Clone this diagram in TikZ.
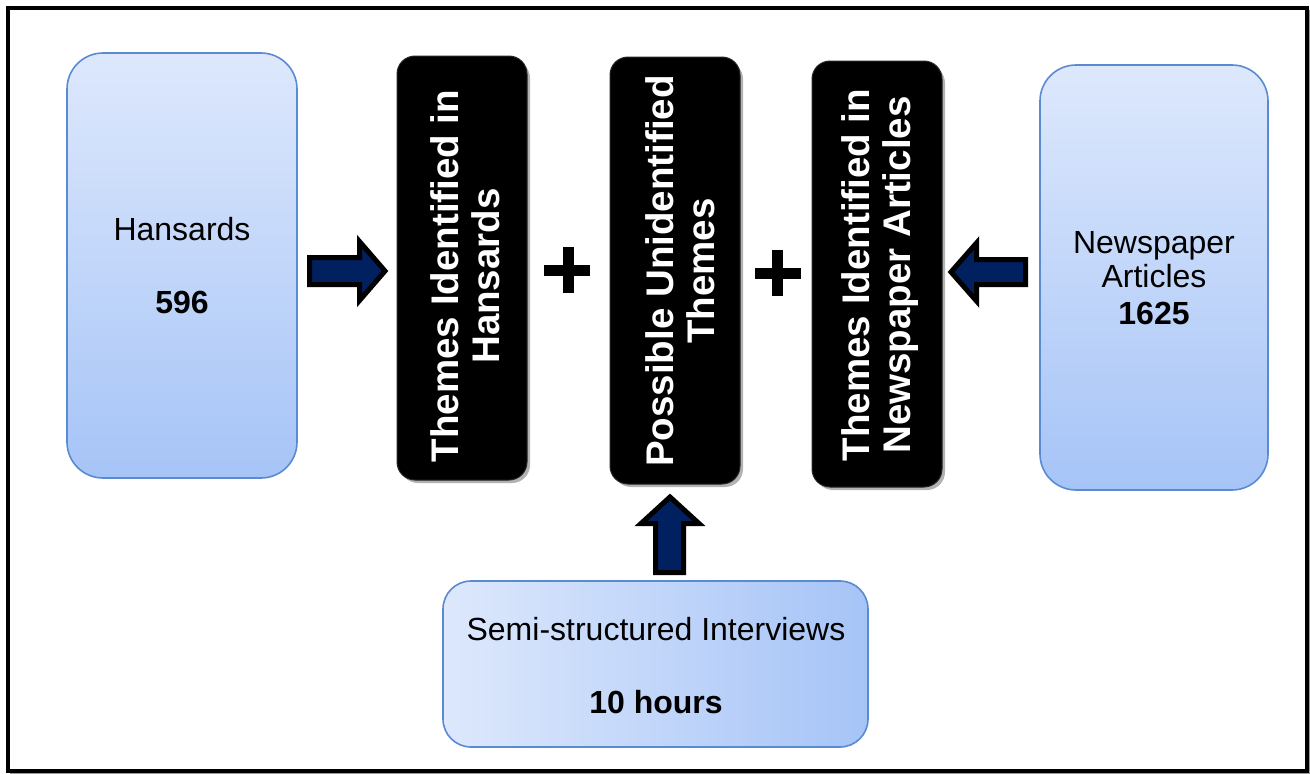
\documentclass[tikz,border=0pt]{standalone}
\usepackage{fontspec}
\setmainfont{Liberation Sans}
\definecolor{boxtop}{HTML}{DDE8FC}
\definecolor{boxbot}{HTML}{A6C4F7}
\definecolor{boxedge}{HTML}{5A8AD0}
\definecolor{navy}{HTML}{002060}
\definecolor{shadowgray}{HTML}{9A9A9A}
\begin{document}
\begin{tikzpicture}[x=1pt,y=-1pt,
  bluebox/.style={draw=boxedge, line width=1.6pt, rounded corners=36pt},
  blackbox/.style={draw=black!85, line width=1pt, fill=black, rounded corners=18pt,
                   minimum width=130pt, inner sep=0pt},
  txt/.style={font=\fontsize{32}{36}\selectfont, anchor=base, inner sep=0pt},
  btxt/.style={txt, font=\fontsize{32}{36}\selectfont\bfseries},
  vtxt/.style={text=white, rotate=90, align=center, inner sep=0pt,
               font=\fontsize{38.5}{40.5}\selectfont\bfseries},
  blockarrow/.style={draw=black, fill=navy, line width=5pt, line join=miter},
  plussign/.style={fill=black},
  frameline/.style={draw=black, line width=4pt}]
\useasboundingbox (0,0) rectangle (1310,774);
% frame
\draw[draw=shadowgray, line width=3pt] (10,773) -- (1309.5,773) -- (1309.5,10);
\draw[frameline] (7.5,7.5) rectangle (1307,771);
% blue boxes
\node[bluebox, top color=boxtop, bottom color=boxbot, minimum width=230pt, minimum height=425pt] (hans) at (182,265.5) {};
\node[bluebox, top color=boxtop, bottom color=boxbot, minimum width=228pt, minimum height=425pt] (news) at (1154,277.5) {};
\node[bluebox, rounded corners=28pt, left color=boxtop, right color=boxbot, minimum width=425pt, minimum height=166pt] (semi) at (655.5,664) {};
% black boxes (with soft shadow)
\fill[black!30, rounded corners=18pt] (400,60) rectangle (530,483);
\fill[black!30, rounded corners=18pt] (613,61) rectangle (743,487);
\fill[black!30, rounded corners=18pt] (815,65) rectangle (945,490);
\node[blackbox, minimum height=424pt] (b1) at (462,268) {};
\node[blackbox, minimum height=427pt] (b2) at (675,270.5) {};
\node[blackbox, minimum height=426pt] (b3) at (877,274) {};
% texts
\node[txt] (thans) at (182,240) {Hansards};
\node[btxt] (nhans) at (182,313) {596};
\node[txt] (tnews1) at (1154,253) {Newspaper};
\node[txt] (tnews2) at (1154,287) {Articles};
\node[btxt] (nnews) at (1154,324) {1625};
\node[txt] (tsemi) at (656,640) {Semi-structured Interviews};
\node[btxt] (nsemi) at (656,713) {10 hours};
\node[vtxt] (v1) at (465,276) {Themes Identified in\\Hansards};
\node[vtxt] (v2) at (680,271) {Possible Unidentified\\Themes};
\node[vtxt] (v3) at (880,275) {Themes Identified in\\Newspaper Articles};
% plus signs
\fill[plussign] (562.5,247) rectangle (573.5,293);
\fill[plussign] (544,264.5) rectangle (590,276);
\fill[plussign] (772,250) rectangle (783,296);
\fill[plussign] (754.5,267.5) rectangle (800.5,279);
% block arrows
\draw[blockarrow] (309.5,257.5) -- (359.5,257.5) -- (359.5,241.5) -- (385,271) -- (359.5,300.5) -- (359.5,284.5) -- (309.5,284.5) -- cycle;
\draw[blockarrow] (655.5,572.5) -- (655.5,523.5) -- (641,523.5) -- (670,497) -- (699,523.5) -- (683.5,523.5) -- (683.5,572.5) -- cycle;
\draw[blockarrow] (1025.5,259.5) -- (976.5,259.5) -- (976.5,243) -- (951,272) -- (976.5,301) -- (976.5,284.5) -- (1025.5,284.5) -- cycle;
\end{tikzpicture}
\end{document}
